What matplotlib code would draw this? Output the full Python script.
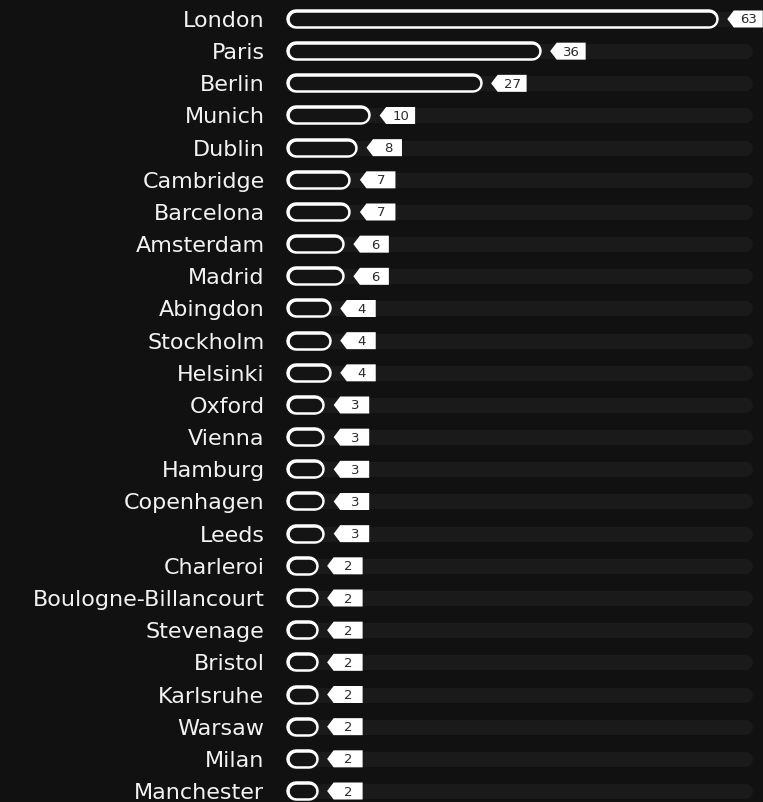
import matplotlib
matplotlib.use("Agg")
import matplotlib.pyplot as plt
import matplotlib.transforms as mtransforms
from matplotlib.patches import Polygon

# city counts
cities = ["London", "Paris", "Berlin", "Munich", "Dublin", "Cambridge", "Barcelona",
          "Amsterdam", "Madrid", "Abingdon", "Stockholm", "Helsinki", "Oxford", "Vienna",
          "Hamburg", "Copenhagen", "Leeds", "Charleroi", "Boulogne-Billancourt",
          "Stevenage", "Bristol", "Karlsruhe", "Warsaw", "Milan", "Manchester"]
counts = [63, 36, 27, 10, 8, 7, 7, 6, 6, 4, 4, 4, 3, 3, 3, 3, 3, 2, 2, 2, 2, 2, 2, 2, 2]

bg = "#111111"
track_color = "#1a1a1a"
W, H, DPI = 763, 803, 100
px = 72 / DPI  # pixels -> points

fig = plt.figure(figsize=(W / DPI, H / DPI), dpi=DPI, facecolor=bg)
x0 = 295.5
scale = 6.56
ax = fig.add_axes([x0 / W, 0, 1 - x0 / W, 1])
ax.set_facecolor(bg)
ax.set_xlim(0, (W - x0) / scale)
row = 32.17
n = len(cities)
ax.set_ylim((n - 1) + (H - 792) / row, -20 / row)
ax.axis("off")

track_end = (752 - 7.5 - x0) / scale
label_shift = mtransforms.ScaledTranslation(-31 / DPI, 1 / DPI, fig.dpi_scale_trans)

for i, (c, v) in enumerate(zip(cities, counts)):
    # background track
    ax.plot([0, track_end], [i, i], color=track_color, lw=15 * px,
            solid_capstyle="round", zorder=1, clip_on=False)
    # pill bar: white outline then dark inside
    ax.plot([0, v], [i, i], color="white", lw=19.5 * px,
            solid_capstyle="round", zorder=2, clip_on=False)
    ax.plot([0, v], [i, i], color="#141414", lw=13.5 * px,
            solid_capstyle="round", zorder=3, clip_on=False)

    # city label
    ax.text(0, i, c, color="#f2f2f2", fontsize=16, family="DejaVu Sans",
            ha="right", va="center_baseline",
            transform=ax.transData + label_shift)

    # value tag
    offs = mtransforms.ScaledTranslation(v, i, ax.transData)
    tag = Polygon([(18.5, 0), (25, -8.5), (54, -8.5), (54, 8.5), (25, 8.5)],
                  closed=True, facecolor="white", edgecolor="none",
                  transform=offs, zorder=4, clip_on=False)
    ax.add_patch(tag)
    ax.text(40, 0, str(v), color="#2a2a2a", fontsize=9.5, family="DejaVu Sans",
            ha="center", va="center", transform=offs, zorder=5, clip_on=False)

fig.savefig("out.png", dpi=DPI, facecolor=bg)
